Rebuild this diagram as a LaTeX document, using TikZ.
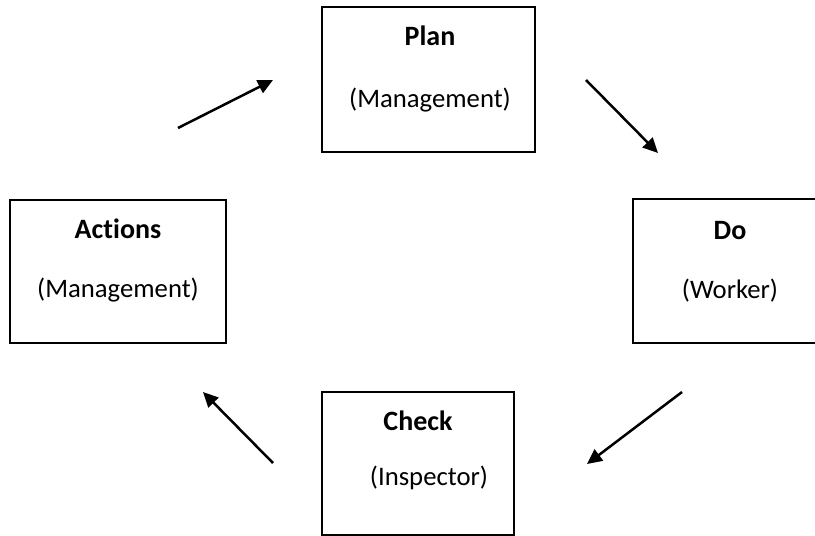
\documentclass[tikz,border=0pt]{standalone}
\usepackage{fontspec}
\setmainfont[Ligatures={NoCommon}]{Carlito}
\usetikzlibrary{arrows.meta}
\begin{document}
\begin{tikzpicture}[x=1pt,y=-1pt,
  box/.style={draw=black,line width=2pt,minimum width=#1,inner sep=0pt},
  ttl/.style={anchor=base,font=\fontsize{28}{33}\selectfont\bfseries,inner sep=0pt},
  sub/.style={anchor=base,font=\fontsize{26.7}{32}\selectfont,inner sep=0pt},
  arr/.style={line width=2.5pt,-{Triangle[length=15pt,width=14pt]}}]
\useasboundingbox (0,0) rectangle (815,536);
% boxes
\node[box=213pt,minimum height=145pt] (plan) at (428.5,79.5) {};
\node[box=194pt,minimum height=144pt] (do) at (730,271) {};
\node[box=216pt,minimum height=143pt] (act) at (118,271.5) {};
\node[box=192pt,minimum height=143pt] (chk) at (418,463.5) {};
% texts
\node[ttl] (planT) at (430,45) {Plan};
\node[sub] (planS) at (430,107) {(Management)};
\node[ttl] (doT) at (730,239) {Do};
\node[sub] (doS) at (730,298) {(Worker)};
\node[ttl] (actT) at (118,238) {Actions};
\node[sub] (actS) at (118,297) {(Management)};
\node[ttl] (chkT) at (418,430) {Check};
\node[sub] (chkS) at (429,485) {(Inspector)};
% arrows
\coordinate (a1s) at (178,128); \coordinate (a1e) at (273,80);
\coordinate (a2s) at (586,80);  \coordinate (a2e) at (658,153);
\coordinate (a3s) at (682,392); \coordinate (a3e) at (587,464);
\coordinate (a4s) at (273,463); \coordinate (a4e) at (203,392);
\draw[arr] (a1s) -- (a1e);
\draw[arr] (a2s) -- (a2e);
\draw[arr] (a3s) -- (a3e);
\draw[arr] (a4s) -- (a4e);
\end{tikzpicture}
\end{document}
